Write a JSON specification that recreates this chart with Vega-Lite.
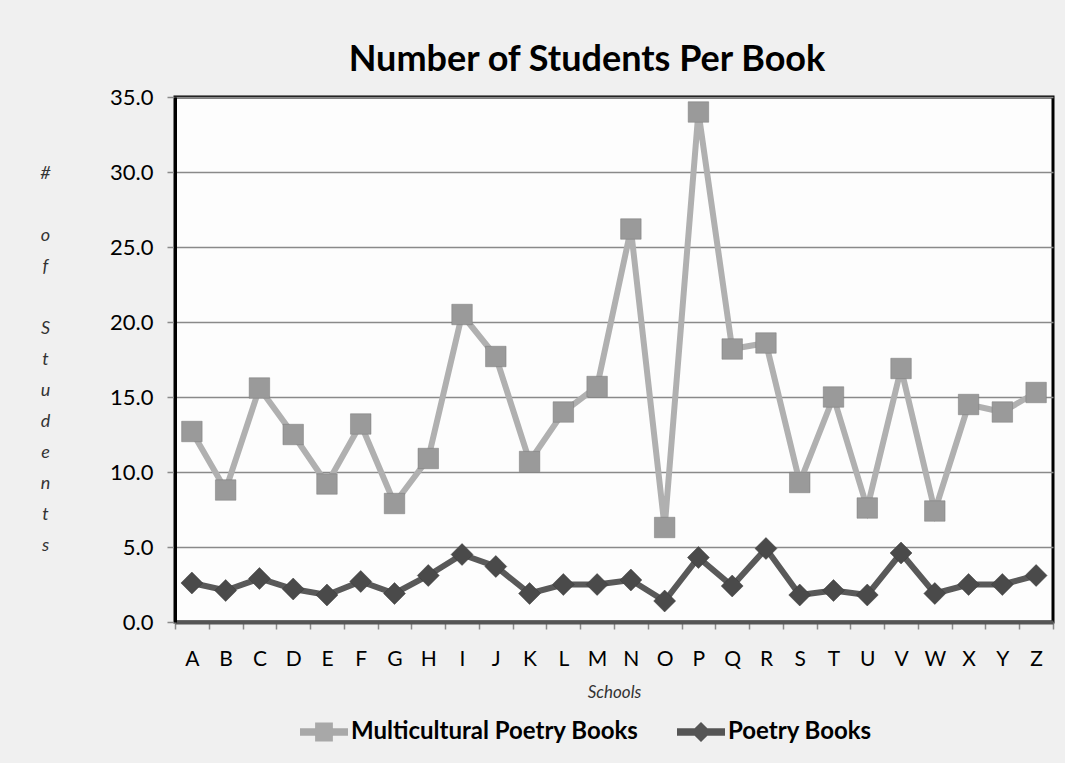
{
  "$schema": "https://vega.github.io/schema/vega-lite/v6.json",
  "width": 878,
  "height": 525,
  "autosize": {"type": "none"},
  "padding": {"left": 175, "top": 97, "right": 12, "bottom": 141},
  "background": "#f0f0f0",
  "title": {
    "text": "Number of Students Per Book",
    "font": "Lato",
    "fontSize": 36,
    "fontWeight": "bold",
    "color": "#000000",
    "anchor": "middle",
    "frame": "group",
    "dx": -27,
    "dy": 38,
    "offset": 17,
    "baseline": "alphabetic"
  },
  "data": {
    "values": [
      {"school": "A", "Multicultural Poetry Books": 12.7, "Poetry Books": 2.6},
      {"school": "B", "Multicultural Poetry Books": 8.8, "Poetry Books": 2.1},
      {"school": "C", "Multicultural Poetry Books": 15.6, "Poetry Books": 2.9},
      {"school": "D", "Multicultural Poetry Books": 12.5, "Poetry Books": 2.2},
      {"school": "E", "Multicultural Poetry Books": 9.2, "Poetry Books": 1.8},
      {"school": "F", "Multicultural Poetry Books": 13.2, "Poetry Books": 2.7},
      {"school": "G", "Multicultural Poetry Books": 7.9, "Poetry Books": 1.9},
      {"school": "H", "Multicultural Poetry Books": 10.9, "Poetry Books": 3.1},
      {"school": "I", "Multicultural Poetry Books": 20.5, "Poetry Books": 4.5},
      {"school": "J", "Multicultural Poetry Books": 17.7, "Poetry Books": 3.7},
      {"school": "K", "Multicultural Poetry Books": 10.7, "Poetry Books": 1.9},
      {"school": "L", "Multicultural Poetry Books": 14.0, "Poetry Books": 2.5},
      {"school": "M", "Multicultural Poetry Books": 15.7, "Poetry Books": 2.5},
      {"school": "N", "Multicultural Poetry Books": 26.2, "Poetry Books": 2.8},
      {"school": "O", "Multicultural Poetry Books": 6.3, "Poetry Books": 1.4},
      {"school": "P", "Multicultural Poetry Books": 34.0, "Poetry Books": 4.3},
      {"school": "Q", "Multicultural Poetry Books": 18.2, "Poetry Books": 2.4},
      {"school": "R", "Multicultural Poetry Books": 18.6, "Poetry Books": 4.9},
      {"school": "S", "Multicultural Poetry Books": 9.3, "Poetry Books": 1.8},
      {"school": "T", "Multicultural Poetry Books": 15.0, "Poetry Books": 2.1},
      {"school": "U", "Multicultural Poetry Books": 7.6, "Poetry Books": 1.8},
      {"school": "V", "Multicultural Poetry Books": 16.9, "Poetry Books": 4.6},
      {"school": "W", "Multicultural Poetry Books": 7.4, "Poetry Books": 1.9},
      {"school": "X", "Multicultural Poetry Books": 14.5, "Poetry Books": 2.5},
      {"school": "Y", "Multicultural Poetry Books": 14.0, "Poetry Books": 2.5},
      {"school": "Z", "Multicultural Poetry Books": 15.3, "Poetry Books": 3.1}
    ]
  },
  "transform": [
    {"fold": ["Multicultural Poetry Books", "Poetry Books"], "as": ["series", "students"]}
  ],
  "encoding": {
    "x": {
      "field": "school",
      "type": "nominal",
      "scale": {"type": "band", "paddingInner": 0, "paddingOuter": 0},
      "axis": {
        "title": "Schools",
        "titleFont": "Lato",
        "titleFontSize": 17,
        "titleFontStyle": "italic",
        "titleFontWeight": "normal",
        "titleColor": "#333333",
        "titleBaseline": "alphabetic",
        "titleY": 75,
        "labelAngle": 0,
        "labelFont": "Lato",
        "labelFontSize": 21,
        "labelColor": "#000000",
        "labelPadding": 19,
        "tickBand": "extent",
        "tickSize": 7,
        "tickColor": "#8a8a8a",
        "tickWidth": 1.5,
        "domainColor": "#555555",
        "domainWidth": 4,
        "grid": false
      }
    },
    "y": {
      "field": "students",
      "type": "quantitative",
      "scale": {"domain": [0, 35], "nice": false},
      "axis": {
        "title": ["#", "\u200b", "o", "f", "\u200b", "S", "t", "u", "d", "e", "n", "t", "s"],
        "titleAngle": 0,
        "titleFont": "Lato",
        "titleFontSize": 18,
        "titleFontStyle": "italic",
        "titleFontWeight": "normal",
        "titleColor": "#333333",
        "titleLineHeight": 31,
        "titleAlign": "center",
        "titleBaseline": "top",
        "titleX": -130,
        "titleY": 67,
        "values": [0, 5, 10, 15, 20, 25, 30, 35],
        "format": ".1f",
        "labelFont": "Lato",
        "labelFontSize": 22,
        "labelColor": "#000000",
        "labelPadding": 14,
        "tickSize": 8,
        "tickColor": "#8a8a8a",
        "tickWidth": 1.5,
        "domainColor": "#000000",
        "domainWidth": 3,
        "grid": true,
        "gridColor": "#8a8a8a",
        "gridWidth": 1.5
      }
    }
  },
  "layer": [
    {
      "mark": {"type": "line", "strokeWidth": 6, "strokeJoin": "miter"},
      "encoding": {
        "color": {
          "field": "series",
          "type": "nominal",
          "scale": {
            "domain": ["Multicultural Poetry Books", "Poetry Books"],
            "range": ["#b0b0b0", "#595959"]
          },
          "legend": {
            "title": null,
            "orient": "none",
            "direction": "horizontal",
            "legendX": 125,
            "legendY": 611,
            "symbolSize": 2304,
            "labelFont": "Lato",
            "labelFontSize": 24,
            "labelFontWeight": "bold",
            "labelColor": "#000000",
            "labelLimit": 500,
            "labelOffset": 3,
            "columnPadding": 38,
            "encode": {
              "symbols": {
                "update": {
                  "shape": {"signal": "datum.value === 'Poetry Books' ? 'M-1,-0.16H1V0.16H-1Z M0,-0.42L0.42,0L0,0.42L-0.42,0Z' : 'M-1,-0.16H1V0.16H-1Z M-0.37,-0.4H0.37V0.4H-0.37Z'"},
                  "fill": {"signal": "datum.value === 'Poetry Books' ? '#555555' : '#a8a8a8'"},
                  "strokeWidth": {"value": 0},
                  "opacity": {"value": 1}
                }
              }
            }
          }
        }
      }
    },
    {
      "transform": [{"filter": "datum.series === 'Multicultural Poetry Books'"}],
      "mark": {"type": "point", "shape": "square", "filled": true, "opacity": 1, "size": 420, "fill": "#9a9a9a", "stroke": "#7a7a7a", "strokeWidth": 0.5}
    },
    {
      "transform": [{"filter": "datum.series === 'Poetry Books'"}],
      "mark": {"type": "point", "shape": "diamond", "filled": true, "opacity": 1, "size": 480, "fill": "#4a4a4a", "stroke": "#3a3a3a", "strokeWidth": 0.5}
    }
  ],
  "config": {
    "view": {"fill": "#fdfdfd", "stroke": "#000000", "strokeWidth": 3}
  }
}
